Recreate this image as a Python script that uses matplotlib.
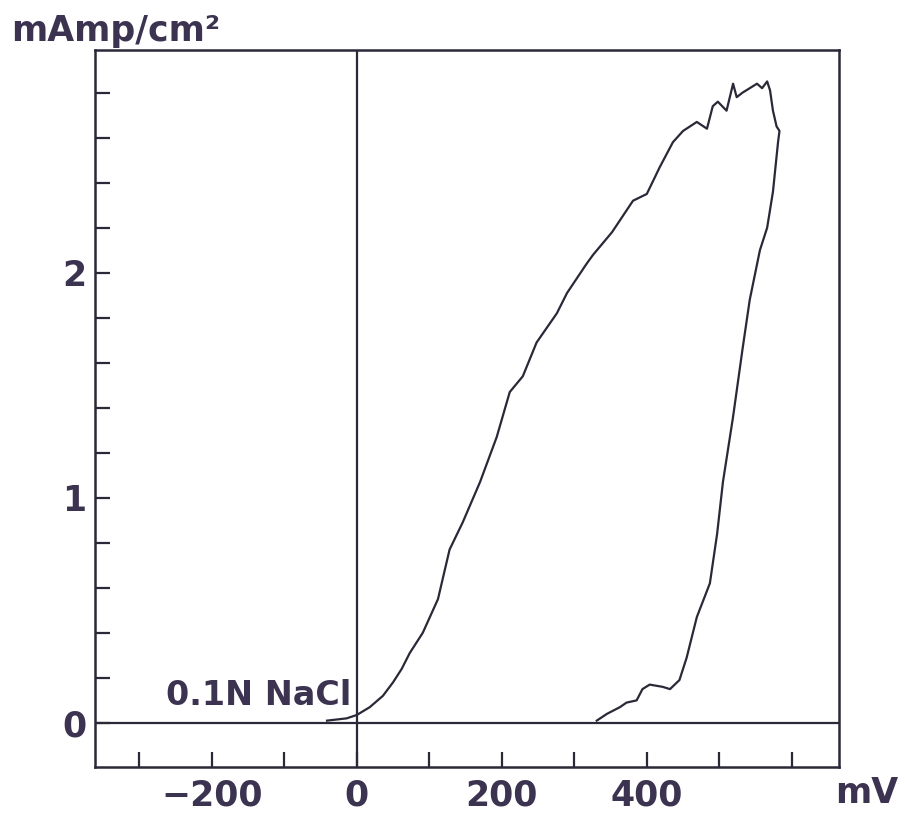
import numpy as np
import matplotlib
matplotlib.use("Agg")
import matplotlib.pyplot as plt

# forward sweep (upper branch), mV vs mAmp/cm2
fwd_mv = [-41, -14, 0, 18, 36, 50, 62, 73, 91, 112, 128, 146, 170, 193, 211, 229, 248,
          276, 290, 317, 326, 352, 381, 400, 418, 436, 450, 469, 483, 491, 498, 510,
          519, 524, 532, 542, 552, 559, 566, 570, 574, 579, 583]
fwd_i = [0.01, 0.02, 0.035, 0.07, 0.12, 0.18, 0.24, 0.31, 0.40, 0.55, 0.77, 0.89, 1.07,
         1.27, 1.47, 1.54, 1.69, 1.82, 1.91, 2.04, 2.08, 2.18, 2.32, 2.35, 2.47, 2.58,
         2.63, 2.67, 2.64, 2.74, 2.76, 2.72, 2.84, 2.78, 2.80, 2.82, 2.84, 2.82, 2.85,
         2.81, 2.72, 2.65, 2.63]
# reverse sweep (lower branch)
rev_mv = [583, 581, 574, 566, 556, 542, 532, 519, 505, 497, 487, 469, 455, 445, 432,
          422, 404, 394, 386, 372, 363, 345, 331]
rev_i = [2.63, 2.58, 2.36, 2.20, 2.10, 1.88, 1.66, 1.36, 1.07, 0.84, 0.62, 0.47, 0.29,
         0.19, 0.15, 0.16, 0.17, 0.15, 0.10, 0.09, 0.07, 0.04, 0.01]

x_ticks = [-300, -200, -100, 0, 100, 200, 300, 400, 500, 600]
x_labels = ["", "\u2212200", "", "0", "", "200", "", "400", "", ""]
y_ticks = [round(0.2 * k, 1) for k in range(15)]
y_labels = {0.0: "0", 1.0: "1", 2.0: "2"}

ink = "#2b2838"
txt = "#3b3350"

fig = plt.figure(figsize=(9.05, 8.13), dpi=100)
ax = fig.add_axes([0.105, 0.0566, 0.822, 0.882])
ax.set_xlim(-361, 665)
ax.set_ylim(-0.196, 2.99)

ax.plot(fwd_mv + rev_mv, fwd_i + rev_i, color=ink, lw=1.6)
ax.axhline(0, color=ink, lw=1.6)
ax.axvline(0, color=ink, lw=1.6)

for s in ax.spines.values():
    s.set_color(ink)
    s.set_linewidth(1.8)

font = dict(family="DejaVu Sans", weight="bold", color=txt)
ax.set_xticks(x_ticks)
ax.set_xticklabels(x_labels, fontsize=25, **font)
ax.set_yticks(y_ticks)
ax.set_yticklabels([y_labels.get(v, "") for v in y_ticks], fontsize=25, **font)
ax.tick_params(axis="both", direction="in", length=11, width=1.6, color=ink)
ax.tick_params(axis="x", pad=8)
ax.tick_params(axis="y", pad=6)

fig.text(0.012, 0.95, "mAmp/cm\u00b2", fontsize=25, **font)
fig.text(0.993, 0.012, "mV", fontsize=25, ha="right", **font)
ax.text(-8, 0.05, "0.1N NaCl", fontsize=24, ha="right", va="bottom", **font)

fig.savefig("out.png", dpi=100, facecolor="white")
